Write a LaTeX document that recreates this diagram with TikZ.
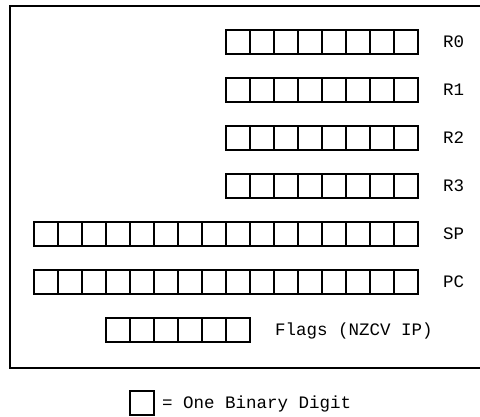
\documentclass[tikz,border=0pt]{standalone}
\usepackage{fontspec}
\setmonofont{Liberation Mono}
\usetikzlibrary{positioning}

\begin{document}
\begin{tikzpicture}[x=1pt,y=-1pt,
  bit/.style={rectangle,draw=black,line width=1.3pt,minimum size=24pt,inner sep=0pt,outer sep=0pt},
  reg/.style={font=\ttfamily\fontsize{17.5}{20}\selectfont,inner sep=0pt,text height=10pt,text depth=0pt,anchor=west},
  frame/.style={line width=1.3pt}
]
\useasboundingbox (0,0) rectangle (480,416);
\draw[frame] (480,6) -- (10,6) -- (10,368) -- (480,368);

% register / label / bits / left edge / centre line
\foreach \r/\lbl/\n/\x/\y in {r0/R0/8/226/42, r1/R1/8/226/90, r2/R2/8/226/138,
    r3/R3/8/226/186, sp/SP/16/34/234, pc/PC/16/34/282, flags/{Flags (NZCV IP)}/6/106/330}{
  \node[bit] (\r-1) at (\x+12,\y) {};
  \foreach \i [remember=\i as \k (initially 1)] in {2,...,\n}
    \node[bit,right=0pt of \r-\k] (\r-\i) {};
  \node[reg,right=25pt of \r-\n] (\r-name) {\lbl};
}

% key
\node[bit] (key) at (142,403) {};
\node[reg,right=8pt of key] (keytext) {= One Binary Digit};
\end{tikzpicture}
\end{document}
